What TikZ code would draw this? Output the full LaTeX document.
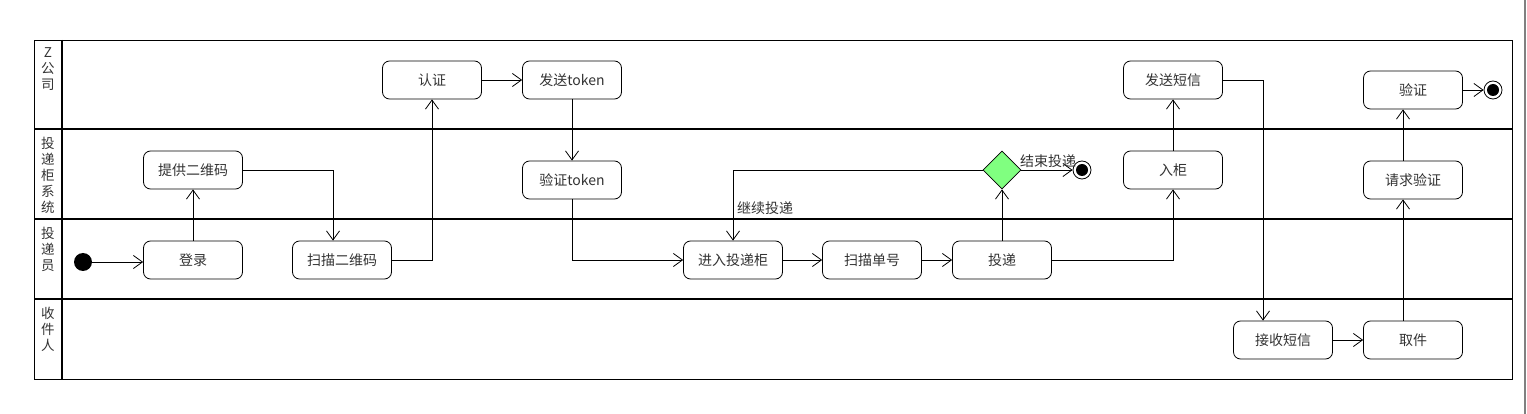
\documentclass[tikz,border=0pt]{standalone}
\usepackage{fontspec}
\setmainfont{Noto Sans CJK SC}
\usetikzlibrary{arrows.meta,shapes.geometric}
\definecolor{txt}{HTML}{333333}
\definecolor{dgreen}{HTML}{80FF80}
\tikzset{
  act/.style={draw, line width=0.8pt, rounded corners=7pt, minimum width=99pt, minimum height=38pt, inner sep=0pt, text=txt, font=\fontsize{14}{16}\selectfont},
  flow/.style={line width=0.8pt, -{Straight Barb[length=9pt,width=13pt,line width=0.8pt]}},
  lane/.style={line width=2pt},
  lanelabel/.style={align=center, text=txt, font=\fontsize{13.5}{16}\selectfont, inner sep=0pt},
  elabel/.style={text=txt, font=\fontsize{14}{16}\selectfont, inner sep=0pt},
}
\begin{document}
\begin{tikzpicture}[x=1pt,y=-1pt]
\useasboundingbox (0,0) rectangle (1527,414);
\fill[white] (0,0) rectangle (1527,414);
% right gray line
\draw[gray, line width=2pt] (1525,0) -- (1525,414);
% swimlanes
\draw[line width=0.8pt] (34,40) rectangle (1512,379);
\draw[lane] (62,40) -- (62,379);
\draw[lane] (34,129) -- (1512,129);
\draw[lane] (34,219) -- (1512,219);
\draw[lane] (34,299) -- (1512,299);
\node[lanelabel, anchor=north] (l1) at (48,47) {Z\\公\\司};
\node[lanelabel, anchor=north] (l2) at (48,137) {投\\递\\柜\\系\\统};
\node[lanelabel, anchor=north] (l3) at (48,227) {投\\递\\员};
\node[lanelabel, anchor=north] (l4) at (48,307) {收\\件\\人};
% activities
\node[act] (auth) at (432,80) {认证};
\node[act] (stok) at (572,80) {发送token};
\node[act] (qr) at (193,170) {提供二维码};
\node[act] (vtok) at (572,180) {验证token};
\node[act] (login) at (193,260) {登录};
\node[act] (scan) at (342,260) {扫描二维码};
\node[act] (enter) at (733,260) {进入投递柜};
\node[act] (scanno) at (872,260) {扫描单号};
\node[act] (deliver) at (1002,260) {投递};
\node[act] (sms) at (1173,80) {发送短信};
\node[act] (incab) at (1173,170) {入柜};
\node[act] (verify) at (1413,90) {验证};
\node[act] (req) at (1413,180) {请求验证};
\node[act] (recv) at (1283,340) {接收短信};
\node[act] (take) at (1413,340) {取件};
% start / decision / ends
\node[circle, fill=black, minimum size=18pt, inner sep=0pt] (start) at (83,262) {};
\node[diamond, draw, fill=dgreen, line width=0.8pt, minimum width=38pt, minimum height=38pt, inner sep=0pt] (dia) at (1002,170) {};
\node[circle, draw, fill=white, line width=0.8pt, minimum size=18pt, inner sep=0pt] (end1) at (1082,170) {};
\fill (end1) circle (6pt);
\node[circle, draw, fill=white, line width=0.8pt, minimum size=18pt, inner sep=0pt] (end2) at (1493,90) {};
\fill (end2) circle (6pt);
% flows
\draw[flow] (start) -- (start -| login.west);
\draw[flow] (login) -- (qr);
\draw[flow] (qr.east) -| ([xshift=-9pt]scan.north);
\draw[flow] (scan.east) -| (auth.south);
\draw[flow] (auth) -- (stok);
\draw[flow] (stok) -- (vtok);
\draw[flow] (vtok.south) |- (enter.west);
\draw[flow] (enter) -- (scanno);
\draw[flow] (scanno) -- (deliver);
\draw[flow] (deliver) -- (dia);
\draw[flow] (dia) -- (end1);
\draw[flow] (dia.west) -| (enter.north);
\draw[flow] (deliver.east) -| (incab.south);
\draw[flow] (incab) -- (sms);
\draw[flow] (sms.east) -| ([xshift=-20pt]recv.north);
\draw[flow] (recv) -- (take);
\draw[flow] ([xshift=-10pt]take.north) -- ([xshift=-10pt]req.south);
\draw[flow] ([xshift=-10pt]req.north) -- ([xshift=-10pt]verify.south);
\draw[flow] (verify) -- (end2);
% labels
\node[elabel, anchor=west] (lend) at (1020,161) {结束投递};
\node[elabel, anchor=west] (lcont) at (737,208) {继续投递};
\end{tikzpicture}
\end{document}
